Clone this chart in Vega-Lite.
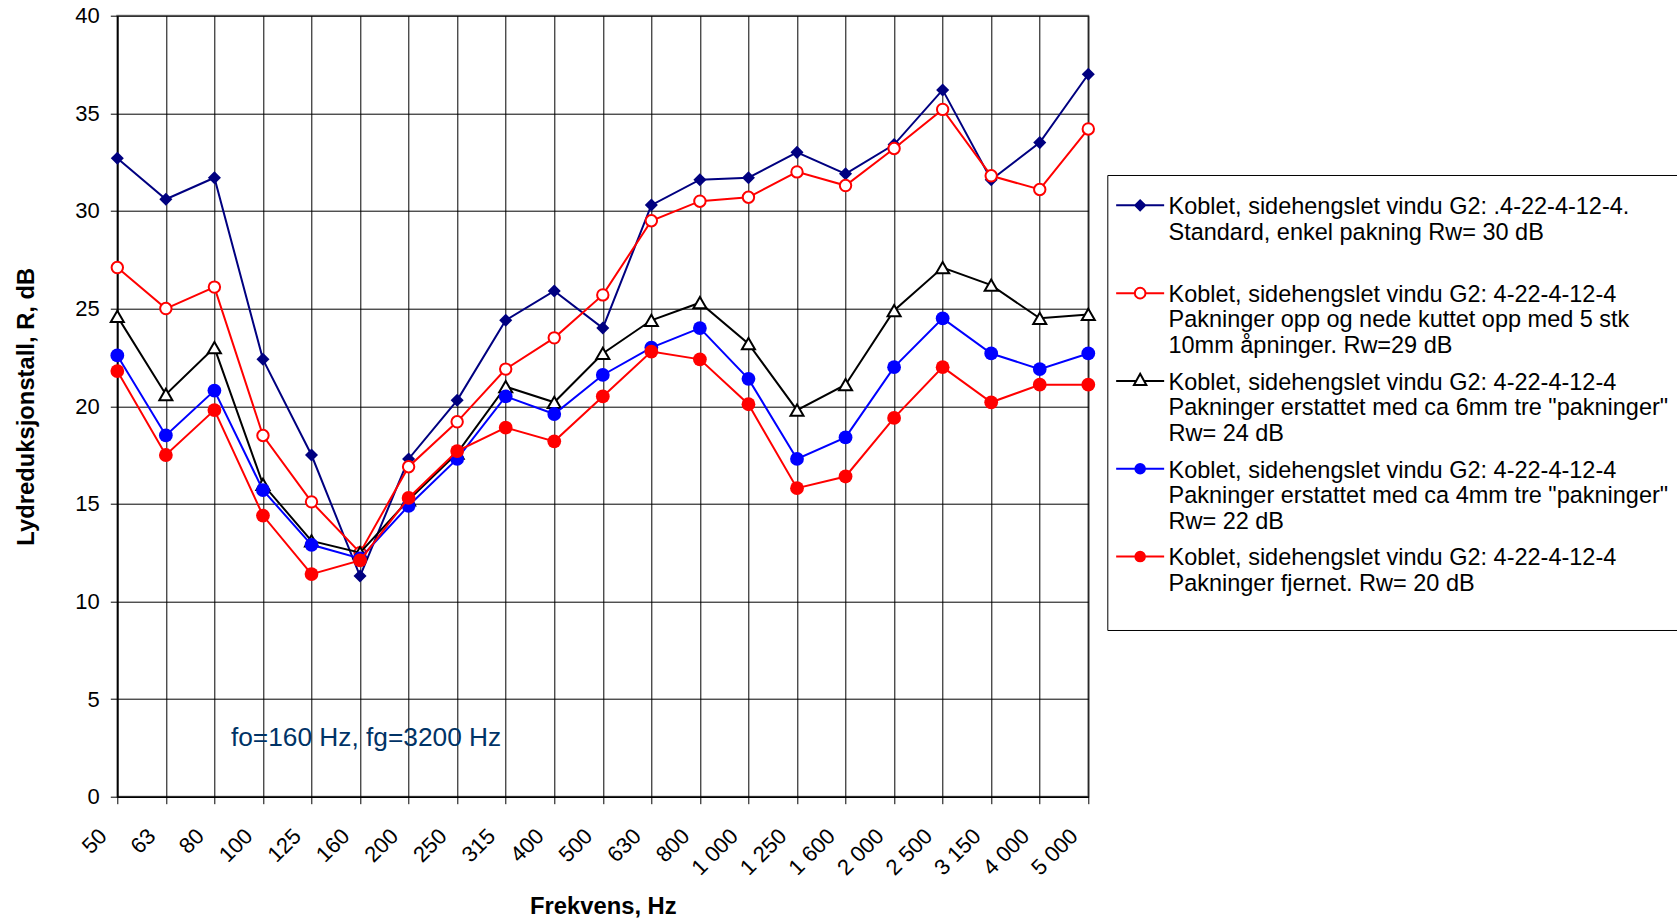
{
  "$schema": "https://vega.github.io/schema/vega-lite/v6.json",
  "autosize": {"type": "none"},
  "padding": {"left": 117.3, "top": 15.7, "right": 588.7, "bottom": 121.2},
  "width": 971,
  "height": 781,
  "background": "#FFFFFF",
  "config": {
    "font": "Liberation Sans",
    "view": {"fill": "#C0C0C0", "stroke": "#808080", "strokeWidth": 2}
  },
  "datasets": {
    "r": [
      {"f": "50", "k": "A", "R": 32.7}, {"f": "63", "k": "A", "R": 30.6}, {"f": "80", "k": "A", "R": 31.7}, {"f": "100", "k": "A", "R": 22.4}, {"f": "125", "k": "A", "R": 17.5}, {"f": "160", "k": "A", "R": 11.3}, {"f": "200", "k": "A", "R": 17.3}, {"f": "250", "k": "A", "R": 20.3}, {"f": "315", "k": "A", "R": 24.4}, {"f": "400", "k": "A", "R": 25.9}, {"f": "500", "k": "A", "R": 24.0}, {"f": "630", "k": "A", "R": 30.3}, {"f": "800", "k": "A", "R": 31.6}, {"f": "1 000", "k": "A", "R": 31.7}, {"f": "1 250", "k": "A", "R": 33.0}, {"f": "1 600", "k": "A", "R": 31.9}, {"f": "2 000", "k": "A", "R": 33.4}, {"f": "2 500", "k": "A", "R": 36.2}, {"f": "3 150", "k": "A", "R": 31.6}, {"f": "4 000", "k": "A", "R": 33.5}, {"f": "5 000", "k": "A", "R": 37.0},
      {"f": "50", "k": "B", "R": 27.1}, {"f": "63", "k": "B", "R": 25.0}, {"f": "80", "k": "B", "R": 26.1}, {"f": "100", "k": "B", "R": 18.5}, {"f": "125", "k": "B", "R": 15.1}, {"f": "160", "k": "B", "R": 12.5}, {"f": "200", "k": "B", "R": 16.9}, {"f": "250", "k": "B", "R": 19.2}, {"f": "315", "k": "B", "R": 21.9}, {"f": "400", "k": "B", "R": 23.5}, {"f": "500", "k": "B", "R": 25.7}, {"f": "630", "k": "B", "R": 29.5}, {"f": "800", "k": "B", "R": 30.5}, {"f": "1 000", "k": "B", "R": 30.7}, {"f": "1 250", "k": "B", "R": 32.0}, {"f": "1 600", "k": "B", "R": 31.3}, {"f": "2 000", "k": "B", "R": 33.2}, {"f": "2 500", "k": "B", "R": 35.2}, {"f": "3 150", "k": "B", "R": 31.8}, {"f": "4 000", "k": "B", "R": 31.1}, {"f": "5 000", "k": "B", "R": 34.2},
      {"f": "50", "k": "C", "R": 24.6}, {"f": "63", "k": "C", "R": 20.6}, {"f": "80", "k": "C", "R": 23.0}, {"f": "100", "k": "C", "R": 16.0}, {"f": "125", "k": "C", "R": 13.1}, {"f": "160", "k": "C", "R": 12.5}, {"f": "200", "k": "C", "R": 15.2}, {"f": "250", "k": "C", "R": 17.6}, {"f": "315", "k": "C", "R": 21.0}, {"f": "400", "k": "C", "R": 20.2}, {"f": "500", "k": "C", "R": 22.7}, {"f": "630", "k": "C", "R": 24.4}, {"f": "800", "k": "C", "R": 25.3}, {"f": "1 000", "k": "C", "R": 23.2}, {"f": "1 250", "k": "C", "R": 19.8}, {"f": "1 600", "k": "C", "R": 21.1}, {"f": "2 000", "k": "C", "R": 24.9}, {"f": "2 500", "k": "C", "R": 27.1}, {"f": "3 150", "k": "C", "R": 26.2}, {"f": "4 000", "k": "C", "R": 24.5}, {"f": "5 000", "k": "C", "R": 24.7},
      {"f": "50", "k": "D", "R": 22.6}, {"f": "63", "k": "D", "R": 18.5}, {"f": "80", "k": "D", "R": 20.8}, {"f": "100", "k": "D", "R": 15.7}, {"f": "125", "k": "D", "R": 12.9}, {"f": "160", "k": "D", "R": 12.2}, {"f": "200", "k": "D", "R": 14.9}, {"f": "250", "k": "D", "R": 17.3}, {"f": "315", "k": "D", "R": 20.5}, {"f": "400", "k": "D", "R": 19.6}, {"f": "500", "k": "D", "R": 21.6}, {"f": "630", "k": "D", "R": 23.0}, {"f": "800", "k": "D", "R": 24.0}, {"f": "1 000", "k": "D", "R": 21.4}, {"f": "1 250", "k": "D", "R": 17.3}, {"f": "1 600", "k": "D", "R": 18.4}, {"f": "2 000", "k": "D", "R": 22.0}, {"f": "2 500", "k": "D", "R": 24.5}, {"f": "3 150", "k": "D", "R": 22.7}, {"f": "4 000", "k": "D", "R": 21.9}, {"f": "5 000", "k": "D", "R": 22.7},
      {"f": "50", "k": "E", "R": 21.8}, {"f": "63", "k": "E", "R": 17.5}, {"f": "80", "k": "E", "R": 19.8}, {"f": "100", "k": "E", "R": 14.4}, {"f": "125", "k": "E", "R": 11.4}, {"f": "160", "k": "E", "R": 12.1}, {"f": "200", "k": "E", "R": 15.3}, {"f": "250", "k": "E", "R": 17.7}, {"f": "315", "k": "E", "R": 18.9}, {"f": "400", "k": "E", "R": 18.2}, {"f": "500", "k": "E", "R": 20.5}, {"f": "630", "k": "E", "R": 22.8}, {"f": "800", "k": "E", "R": 22.4}, {"f": "1 000", "k": "E", "R": 20.1}, {"f": "1 250", "k": "E", "R": 15.8}, {"f": "1 600", "k": "E", "R": 16.4}, {"f": "2 000", "k": "E", "R": 19.4}, {"f": "2 500", "k": "E", "R": 22.0}, {"f": "3 150", "k": "E", "R": 20.2}, {"f": "4 000", "k": "E", "R": 21.1}, {"f": "5 000", "k": "E", "R": 21.1}
    ],
    "names": [
      {"k": "A", "name": "Koblet, sidehengslet vindu G2: .4-22-4-12-4.|Standard, enkel pakning Rw= 30 dB"},
      {"k": "B", "name": "Koblet, sidehengslet vindu G2: 4-22-4-12-4|Pakninger opp og nede kuttet opp med 5 stk|10mm åpninger. Rw=29 dB"},
      {"k": "C", "name": "Koblet, sidehengslet vindu G2: 4-22-4-12-4|Pakninger erstattet med ca 6mm tre \"pakninger\"|Rw= 24 dB"},
      {"k": "D", "name": "Koblet, sidehengslet vindu G2: 4-22-4-12-4|Pakninger erstattet med ca 4mm tre \"pakninger\"|Rw= 22 dB"},
      {"k": "E", "name": "Koblet, sidehengslet vindu G2: 4-22-4-12-4|Pakninger fjernet. Rw= 20 dB| "}
    ]
  },
  "layer": [
    {
      "data": {"name": "r"},
      "encoding": {
        "x": {
          "field": "f", "type": "ordinal",
          "scale": {"type": "point", "padding": 0, "domain": ["50", "63", "80", "100", "125", "160", "200", "250", "315", "400", "500", "630", "800", "1 000", "1 250", "1 600", "2 000", "2 500", "3 150", "4 000", "5 000"]},
          "axis": {
            "title": "Frekvens, Hz",
            "grid": true, "gridColor": "#000000", "gridWidth": 1,
            "domainColor": "#000000", "domainWidth": 1.5,
            "tickColor": "#000000", "tickSize": 7, "tickWidth": 1,
            "labelAngle": -45, "labelAlign": "right", "labelBaseline": "middle",
            "labelOffset": -14.5, "labelPadding": 28.5, "labelOverlap": false,
            "labelFont": "Liberation Sans", "labelFontSize": 22, "labelColor": "#000000",
            "titleFont": "Liberation Sans", "titleFontSize": 23.8, "titleFontWeight": "bold", "titleColor": "#000000",
            "titlePadding": 15.5
          }
        },
        "y": {
          "field": "R", "type": "quantitative",
          "scale": {"domain": [0, 40], "nice": false},
          "axis": {
            "title": "Lydreduksjonstall, R, dB",
            "values": [0, 5, 10, 15, 20, 25, 30, 35, 40],
            "grid": true, "gridColor": "#000000", "gridWidth": 1,
            "domainColor": "#000000", "domainWidth": 1.5,
            "tickColor": "#000000", "tickSize": 7, "tickWidth": 1,
            "labelPadding": 11, "labelFlush": false,
            "labelFont": "Liberation Sans", "labelFontSize": 22, "labelColor": "#000000",
            "titleFont": "Liberation Sans", "titleFontSize": 23.8, "titleFontWeight": "bold", "titleColor": "#000000",
            "titlePadding": 36.3
          }
        }
      },
      "layer": [
        {
          "transform": [{"filter": {"field": "k", "equal": "A"}}],
          "mark": {"type": "line", "color": "#000080", "strokeWidth": 2, "point": {"shape": "diamond", "size": 170, "filled": true, "color": "#000080"}}
        },
        {
          "transform": [{"filter": {"field": "k", "equal": "B"}}],
          "mark": {"type": "line", "color": "#FF0000", "strokeWidth": 2, "point": {"shape": "circle", "size": 130, "filled": true, "fill": "#FFFFFF", "stroke": "#FF0000", "strokeWidth": 2, "opacity": 1}}
        },
        {
          "transform": [{"filter": {"field": "k", "equal": "C"}}],
          "mark": {"type": "line", "color": "#000000", "strokeWidth": 2, "point": {"shape": "triangle-up", "size": 170, "filled": true, "fill": "#FFFFFF", "stroke": "#000000", "strokeWidth": 2, "opacity": 1}}
        },
        {
          "transform": [{"filter": {"field": "k", "equal": "D"}}],
          "mark": {"type": "line", "color": "#0000FF", "strokeWidth": 2, "point": {"shape": "circle", "size": 190, "filled": true, "color": "#0000FF", "opacity": 1}}
        },
        {
          "transform": [{"filter": {"field": "k", "equal": "E"}}],
          "mark": {"type": "line", "color": "#FF0000", "strokeWidth": 2, "point": {"shape": "circle", "size": 190, "filled": true, "color": "#FF0000", "opacity": 1}}
        },
        {
          "data": {"values": [{"f": "160", "R": 3, "label": "fo=160 Hz, fg=3200 Hz"}]},
          "mark": {"type": "text", "font": "Liberation Sans", "fontSize": 26.3, "color": "#003366", "align": "center", "baseline": "middle", "dx": 6},
          "encoding": {"text": {"field": "label"}}
        }
      ]
    },
    {
      "data": {"name": "names"},
      "mark": {"type": "point", "opacity": 0, "size": 16, "strokeWidth": 2},
      "encoding": {
        "color": {
          "field": "name", "type": "nominal", "sort": null,
          "scale": {"range": ["#000080", "#FF0000", "#000000", "#0000FF", "#FF0000"]},
          "legend": {
            "orient": "none", "legendX": 990, "legendY": 159.3, "title": null,
            "padding": 8.4, "strokeColor": "#000000", "fillColor": "#FFFFFF",
            "symbolSize": 16, "symbolStrokeWidth": 2, "symbolOffset": 12.7, "labelOffset": 16.6,
            "labelFont": "Liberation Sans", "labelFontSize": 23.5, "labelColor": "#000000",
            "labelLimit": 2000, "labelBaseline": "top",
            "labelExpr": "split(datum.label, '|')",
            "rowPadding": 0.8, "gridAlign": "all"
          }
        },
        "shape": {
          "field": "name", "type": "nominal", "sort": null,
          "scale": {"range": [
            "M-12,5.1H12M-2.5,5.1L0,2.6L2.5,5.1L0,7.6ZM-1.8,5.1L0,3.3L1.8,5.1L0,6.9ZM-1.1,5.1L0,4L1.1,5.1L0,6.2ZM-0.4,5.1L0,4.7L0.4,5.1L0,5.5Z",
            "M-12,5.1H-2.65M2.65,5.1H12M-2.65,5.1A2.65,2.65 0 1,0 2.65,5.1A2.65,2.65 0 1,0 -2.65,5.1Z",
            "M-12,5.1H-1.97M1.97,5.1H12M0,1.5L3.1,7.15L-3.1,7.15Z",
            "M-12,5.1H12M-2.4,5.1A2.4,2.4 0 1,0 2.4,5.1A2.4,2.4 0 1,0 -2.4,5.1ZM-1.6,5.1A1.6,1.6 0 1,0 1.6,5.1A1.6,1.6 0 1,0 -1.6,5.1ZM-0.85,5.1A0.85,0.85 0 1,0 0.85,5.1A0.85,0.85 0 1,0 -0.85,5.1ZM-0.25,5.1A0.25,0.25 0 1,0 0.25,5.1A0.25,0.25 0 1,0 -0.25,5.1Z",
            "M-12,5.1H12M-2.4,5.1A2.4,2.4 0 1,0 2.4,5.1A2.4,2.4 0 1,0 -2.4,5.1ZM-1.6,5.1A1.6,1.6 0 1,0 1.6,5.1A1.6,1.6 0 1,0 -1.6,5.1ZM-0.85,5.1A0.85,0.85 0 1,0 0.85,5.1A0.85,0.85 0 1,0 -0.85,5.1ZM-0.25,5.1A0.25,0.25 0 1,0 0.25,5.1A0.25,0.25 0 1,0 -0.25,5.1Z"
          ]},
          "legend": {
            "orient": "none", "legendX": 990, "legendY": 159.3, "title": null,
            "padding": 8.4, "strokeColor": "#000000", "fillColor": "#FFFFFF",
            "symbolSize": 16, "symbolStrokeWidth": 2, "symbolOffset": 12.7, "labelOffset": 16.6,
            "labelFont": "Liberation Sans", "labelFontSize": 23.5, "labelColor": "#000000",
            "labelLimit": 2000, "labelBaseline": "top",
            "labelExpr": "split(datum.label, '|')",
            "rowPadding": 0.8, "gridAlign": "all"
          }
        }
      }
    }
  ]
}
